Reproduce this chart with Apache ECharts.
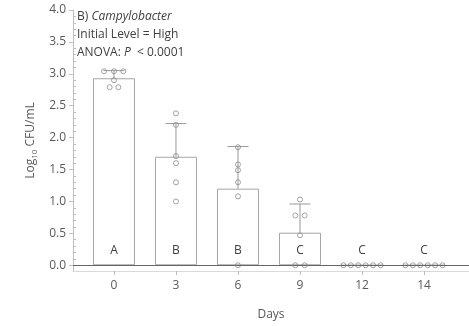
<!DOCTYPE html>
<html>
<head>
<meta charset="utf-8">
<script src="https://cdn.jsdelivr.net/npm/echarts@6/dist/echarts.min.js"></script>
<style>html,body{margin:0;padding:0;background:#fff;}#c{width:469px;height:326px;}</style>
</head>
<body>
<div id="c"></div>
<script>
const days = ['0', '3', '6', '9', '12', '14'];
const means = [2.93, 1.70, 1.20, 0.51, 0, 0];
const sds = [0.12, 0.52, 0.66, 0.45, 0, 0];
const letters = ['A', 'B', 'B', 'C', 'C', 'C'];
const reps = [
  [3.04, 3.04, 3.04, 2.90, 2.79, 2.79],
  [2.38, 2.20, 1.71, 1.60, 1.30, 1.00],
  [1.85, 1.58, 1.49, 1.30, 1.08, 0],
  [1.03, 0.78, 0.78, 0.47, 0, 0],
  [0, 0, 0, 0, 0, 0],
  [0, 0, 0, 0, 0, 0]
];
const jitter = [
  [-0.16, 0, 0.15, 0, -0.07, 0.07],
  [0, 0, 0, 0, 0, 0],
  [0, 0, 0, 0, 0, 0],
  [0, -0.075, 0.075, 0, -0.075, 0.075],
  [-0.3, -0.18, -0.06, 0.06, 0.18, 0.3],
  [-0.3, -0.18, -0.06, 0.06, 0.18, 0.3]
];
const yMajor = [0, 0.5, 1, 1.5, 2, 2.5, 3, 3.5, 4];
const yMinor = [];
for (let k = 1; k < 40; k++) { if (k % 5 !== 0) yMinor.push(k / 10); }
const xTicks = days.map((d, i) => i);

const points = [];
reps.forEach((arr, i) => arr.forEach((v, j) => points.push([i + jitter[i][j], v])));

const chart = echarts.init(document.getElementById('c'));
const txt = '#404040';
const lab = '#595959';
const gridLeft = 73, gridRight = 0, W = 469;
chart.setOption({
  animation: false,
  textStyle: { fontFamily: 'Open Sans' },
  title: {
    left: 77, top: 8, padding: 0,
    text: 'B) {i|Campylobacter}\nInitial Level = High\nANOVA: {i|P}  < 0.0001',
    textStyle: {
      fontSize: 12, fontWeight: 'normal', color: txt, lineHeight: 18, fontFamily: 'Open Sans',
      rich: { i: { fontStyle: 'italic', fontSize: 12, lineHeight: 18, color: txt, fontFamily: 'Open Sans' } }
    }
  },
  grid: { left: gridLeft, right: gridRight, top: 10, bottom: 55 },
  xAxis: {
    type: 'value', min: -0.661, max: 5.726,
    axisLine: { show: true, onZero: false, lineStyle: { color: '#d9d9d9' } },
    axisTick: { show: true, length: 4, customValues: xTicks, lineStyle: { color: '#bfbfbf' } },
    axisLabel: { customValues: xTicks, formatter: v => days[Math.round(v)], margin: 9, fontSize: 12, color: lab },
    splitLine: { show: false },
    name: 'Days', nameLocation: 'middle', nameGap: 38,
    nameTextStyle: { fontSize: 12, color: lab }
  },
  yAxis: [{
    type: 'value', min: -0.09, max: 4, position: 'left',
    axisLine: { show: true, onZero: false, lineStyle: { color: '#bfbfbf' } },
    axisTick: { show: true, length: 4, customValues: yMajor, lineStyle: { color: '#bfbfbf' } },
    axisLabel: { customValues: yMajor, formatter: v => v.toFixed(1), margin: 7, fontSize: 12, color: lab },
    splitLine: { show: false },
    name: '{a|Log}{s|10}{a| CFU/mL}', nameLocation: 'middle', nameGap: 24, nameRotate: 90,
    nameTextStyle: {
      color: lab,
      rich: {
        a: { fontSize: 12, lineHeight: 16, color: lab },
        s: { fontSize: 8, lineHeight: 8, verticalAlign: 'bottom', color: lab }
      }
    }
  }, {
    type: 'value', min: -0.09, max: 4, position: 'right',
    offset: -(W - gridLeft - gridRight),
    axisLine: { show: false, onZero: false },
    axisTick: { show: true, inside: false, length: 3, customValues: yMinor, lineStyle: { color: '#bfbfbf' } },
    axisLabel: { show: false },
    splitLine: { show: false }
  }],
  series: [{
    type: 'bar',
    data: means.map((m, i) => [i, m]),
    barWidth: 42,
    itemStyle: { color: '#fff', borderColor: '#a6a6a6', borderWidth: 1 },
    label: { show: true, position: 'insideBottom', distance: 9, formatter: p => letters[p.dataIndex], color: txt, fontSize: 12 },
    markLine: {
      silent: true, symbol: 'none', animation: false,
      label: { show: false },
      lineStyle: { color: '#666', width: 1, type: 'solid' },
      data: [{ yAxis: 0 }]
    },
    z: 2
  }, {
    type: 'custom',
    data: means.map((m, i) => [i, m, m + sds[i]]),
    encode: { x: 0, y: [1, 2] },
    renderItem: function (params, api) {
      const x = api.value(0), lo = api.value(1), hi = api.value(2);
      if (hi <= lo) return null;
      const p0 = api.coord([x, lo]);
      const p1 = api.coord([x, hi]);
      const st = { stroke: '#999', lineWidth: 1 };
      return {
        type: 'group',
        children: [
          { type: 'line', shape: { x1: p0[0], y1: p0[1], x2: p1[0], y2: p1[1] }, style: st },
          { type: 'line', shape: { x1: p1[0] - 10.5, y1: p1[1], x2: p1[0] + 10.5, y2: p1[1] }, style: st }
        ]
      };
    },
    z: 3
  }, {
    type: 'scatter',
    data: points,
    symbol: 'circle', symbolSize: 5,
    itemStyle: { color: 'rgba(0,0,0,0)', borderColor: '#8c8c8c', borderWidth: 1 },
    z: 4
  }]
});
</script>
</body>
</html>
